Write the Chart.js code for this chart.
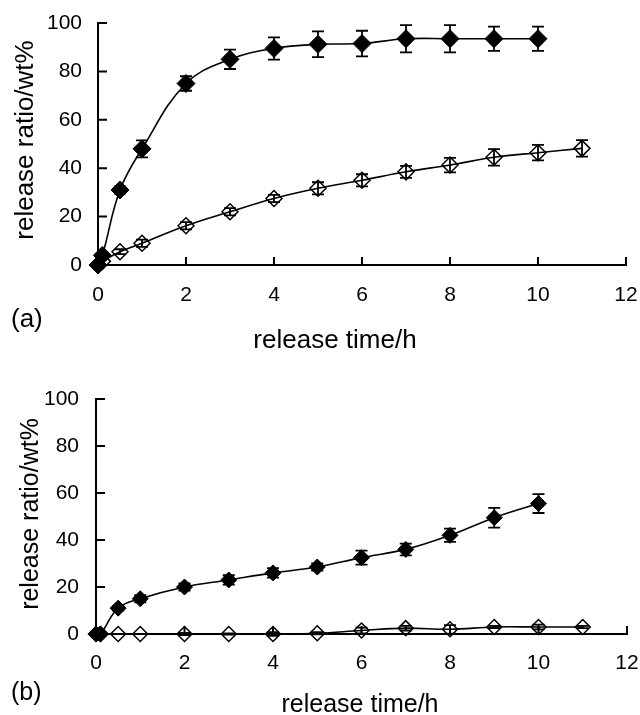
<!DOCTYPE html>
<html>
<head>
<meta charset="utf-8">
<script src="https://cdn.jsdelivr.net/npm/chart.js@4/dist/chart.umd.min.js"></script>
<style>
    html, body { margin: 0; padding: 0; background: #fff; }
    #wrap { position: relative; width: 640px; height: 715px; }
    canvas { position: absolute; left: 0; }
    #chartA { top: 0; }
    #chartB { top: 357px; }
</style>
</head>
<body>
<div id="wrap">
    <canvas id="chartA" width="640" height="357"></canvas>
    <canvas id="chartB" width="640" height="358"></canvas>
</div>
<script>
// (a) release curves
const aFilledTimes  = [0, 0.1, 0.5, 1, 2, 3, 4, 5, 6, 7, 8, 9, 10];
const aFilledValues = [0, 4, 31, 48, 75, 85, 89.5, 91.2, 91.5, 93.5, 93.5, 93.5, 93.5];
const aFilledErrors = [0, 0, 1.5, 3.5, 3, 4, 4.6, 5.3, 5.3, 5.6, 5.6, 5, 5];

const aOpenTimes  = [0, 0.1, 0.5, 1, 2, 3, 4, 5, 6, 7, 8, 9, 10, 11];
const aOpenValues = [0, 1.5, 5.5, 9, 16.2, 22, 27.5, 31.7, 35, 38.5, 41.3, 44.5, 46.4, 48.2];
const aOpenErrors = [0, 0, 1, 1.5, 1.5, 1.5, 1.5, 2.5, 2.5, 2.5, 3, 3.4, 3.2, 3.4];

// (b) release curves
const bFilledTimes  = [0, 0.1, 0.5, 1, 2, 3, 4, 5, 6, 7, 8, 9, 10];
const bFilledValues = [0, 0, 11, 15, 20, 23, 26, 28.5, 32.5, 36, 42, 49.5, 55.5];
const bFilledErrors = [0, 0, 1, 1.5, 1.5, 2, 2, 1.5, 3, 2.5, 2.8, 4.2, 4];

const bOpenTimes  = [0, 0.1, 0.5, 1, 2, 3, 4, 5, 6, 7, 8, 9, 10, 11];
const bOpenValues = [0, 0, 0, 0, 0, 0, 0, 0.3, 1.5, 2.5, 2, 3, 3, 3];
const bOpenErrors = [0, 0, 0, 0, 0.5, 0.3, 0.8, 0.5, 1.2, 1, 1.8, 0.5, 1, 0.5];

// tick marks
const xTickValues = [0, 2, 4, 6, 8, 10, 12];
const yTickValues = [0, 20, 40, 60, 80, 100];

const xTitle = 'release time/h';
const yTitle = 'release ratio/wt%';

document.addEventListener('DOMContentLoaded', () => {
    const FONT = "'Liberation Sans', Arial, sans-serif";

    function toPoints(xs, ys) {
        return xs.map((x, i) => ({ x: x, y: ys[i] }));
    }

    // inward tick marks, error bars and the free text around each panel
    const extrasPlugin = {
        id: 'extras',
        beforeDatasetsDraw(chart, args, opts) {
            const { ctx, chartArea, scales } = chart;
            ctx.save();
            ctx.strokeStyle = '#000';
            ctx.lineWidth = 2;
            ctx.beginPath();
            xTickValues.forEach(v => {
                if (v === 0) return;
                const px = scales.x.getPixelForValue(v);
                ctx.moveTo(px, chartArea.bottom);
                ctx.lineTo(px, chartArea.bottom - 8);
            });
            yTickValues.forEach(v => {
                if (v === 0) return;
                const py = scales.y.getPixelForValue(v);
                ctx.moveTo(chartArea.left, py);
                ctx.lineTo(chartArea.left + 9, py);
            });
            ctx.stroke();
            ctx.restore();
        },
        afterDatasetsDraw(chart, args, opts) {
            const { ctx, scales } = chart;
            ctx.save();
            ctx.strokeStyle = '#000';
            ctx.lineWidth = 1.8;
            opts.errors.forEach((errs, i) => {
                const meta = chart.getDatasetMeta(i);
                const data = chart.data.datasets[i].data;
                meta.data.forEach((pt, j) => {
                    const e = errs[j];
                    if (!e) return;
                    const top = scales.y.getPixelForValue(data[j].y + e);
                    const bot = scales.y.getPixelForValue(data[j].y - e);
                    ctx.beginPath();
                    ctx.moveTo(pt.x, top); ctx.lineTo(pt.x, bot);
                    ctx.moveTo(pt.x - 6, top); ctx.lineTo(pt.x + 6, top);
                    ctx.moveTo(pt.x - 6, bot); ctx.lineTo(pt.x + 6, bot);
                    ctx.stroke();
                });
            });

            ctx.fillStyle = '#000';
            ctx.textBaseline = 'alphabetic';

            const t = opts.text;
            ctx.font = t.size + 'px ' + FONT;
            ctx.textAlign = 'center';
            ctx.fillText(xTitle, t.xTitleX, t.xTitleY);

            ctx.save();
            ctx.translate(t.yTitleX, t.yTitleY);
            ctx.rotate(-Math.PI / 2);
            ctx.fillText(yTitle, 0, 0);
            ctx.restore();

            ctx.textAlign = 'left';
            ctx.fillText(t.panel, t.panelX, t.panelY);
            ctx.restore();
        }
    };

    // fixed axis boxes, no extra room reserved for the end labels
    function fixBox(s, size) {
        if (s.isHorizontal()) s.height = size; else s.width = size;
        s.paddingLeft = 0;
        s.paddingRight = 0;
        s.paddingTop = 0;
        s.paddingBottom = 0;
    }

    function crearPanel(canvasId, filled, open, layout) {
        const canvas = document.getElementById(canvasId);
        new Chart(canvas.getContext('2d'), {
            type: 'scatter',
            data: {
                datasets: [{
                    data: toPoints(filled.times, filled.values),
                    showLine: true,
                    tension: 0.4,
                    borderColor: '#000',
                    borderWidth: 1.6,
                    pointStyle: 'rectRot',
                    pointRadius: layout.filledRadius,
                    pointBackgroundColor: '#000',
                    pointBorderColor: '#000',
                    pointBorderWidth: 1,
                    clip: false
                }, {
                    data: toPoints(open.times, open.values),
                    showLine: true,
                    tension: 0.4,
                    borderColor: '#000',
                    borderWidth: 1.6,
                    pointStyle: 'rectRot',
                    pointRadius: layout.openRadius,
                    pointBackgroundColor: 'rgba(255,255,255,0)',
                    pointBorderColor: '#000',
                    pointBorderWidth: 1.5,
                    clip: false
                }]
            },
            options: {
                responsive: false,
                animation: false,
                events: [],
                layout: { padding: { top: layout.top, right: layout.right, left: 0, bottom: 0 } },
                scales: {
                    x: {
                        type: 'linear',
                        min: 0, max: 12,
                        grid: { display: false },
                        border: { color: '#000', width: 2 },
                        ticks: { stepSize: 2, color: '#000', padding: layout.xPad, font: { family: FONT, size: 21 } },
                        afterFit: s => fixBox(s, layout.xHeight)
                    },
                    y: {
                        min: 0, max: 100,
                        grid: { display: false },
                        border: { color: '#000', width: 2 },
                        ticks: { stepSize: 20, color: '#000', padding: layout.yPad, font: { family: FONT, size: 21 } },
                        afterFit: s => fixBox(s, layout.yWidth)
                    }
                },
                plugins: {
                    legend: { display: false },
                    tooltip: { enabled: false },
                    extras: {
                        errors: [filled.errors, open.errors],
                        text: layout.text
                    }
                }
            },
            plugins: [extrasPlugin]
        });
    }

    crearPanel('chartA',
        { times: aFilledTimes, values: aFilledValues, errors: aFilledErrors },
        { times: aOpenTimes, values: aOpenValues, errors: aOpenErrors },
        {
            top: 23, right: 14, xHeight: 92, yWidth: 98, xPad: 10, yPad: 8,
            filledRadius: 9, openRadius: 8,
            text: { size: 26, xTitleX: 335, xTitleY: 348, yTitleX: 33, yTitleY: 140, panel: '(a)', panelX: 11, panelY: 327 }
        }
    );

    crearPanel('chartB',
        { times: bFilledTimes, values: bFilledValues, errors: bFilledErrors },
        { times: bOpenTimes, values: bOpenValues, errors: bOpenErrors },
        {
            top: 42, right: 13, xHeight: 81, yWidth: 96, xPad: 9, yPad: 9,
            filledRadius: 8, openRadius: 7.5,
            text: { size: 25, xTitleX: 360, xTitleY: 355, yTitleX: 38, yTitleY: 157, panel: '(b)', panelX: 11, panelY: 343 }
        }
    );
});
</script>
</body>
</html>
